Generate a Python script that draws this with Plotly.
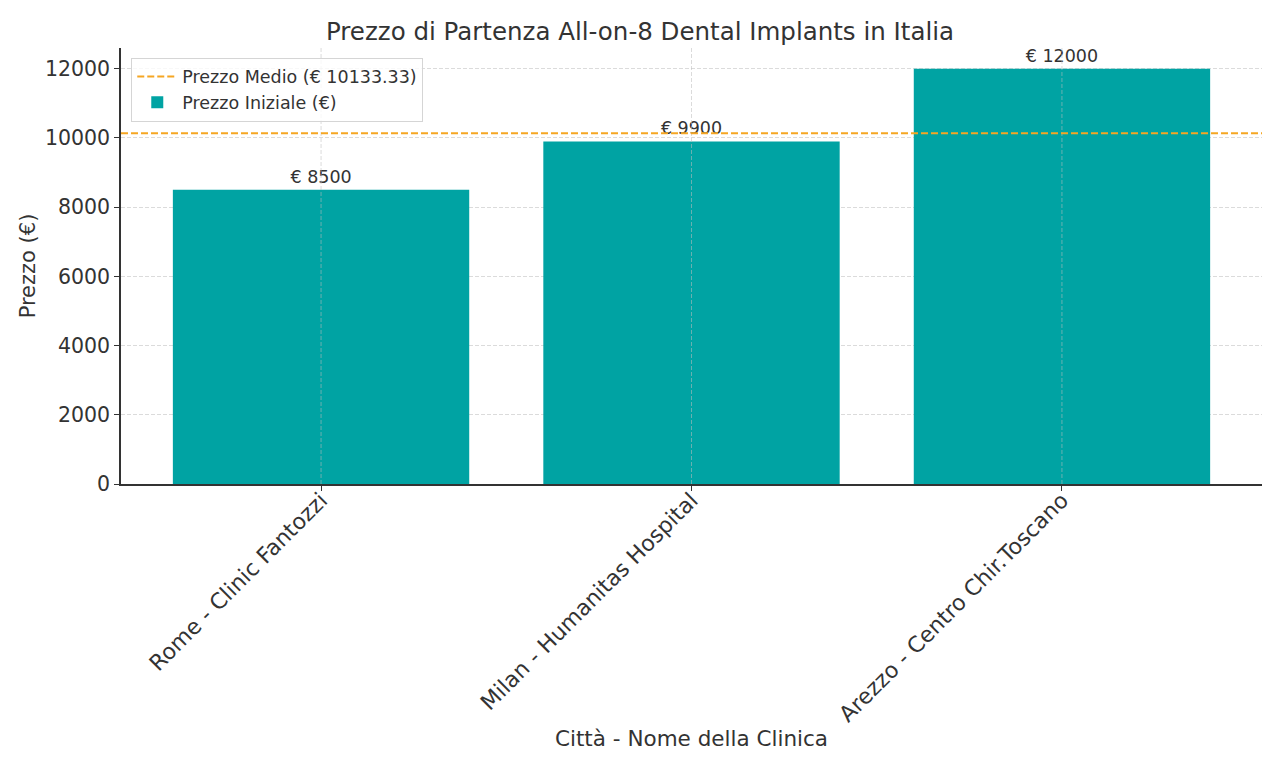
import plotly.graph_objects as go

categories = ["Rome - Clinic Fantozzi", "Milan - Humanitas Hospital", "Arezzo - Centro Chir.Toscano"]
prices = [8500, 9900, 12000]
mean_price = sum(prices) / len(prices)
y_ticks = [0, 2000, 4000, 6000, 8000, 10000, 12000]

TEXT = "#333333"
BAR = "#00A3A3"
ORANGE = "#F5A623"
GRID = "rgba(190,190,190,0.55)"
FONT = "DejaVu Sans"

fig = go.Figure()

# legend entry for mean line (line itself drawn as shape)
fig.add_trace(go.Scatter(
    x=[categories[0]], y=[None], mode="lines",
    line=dict(color=ORANGE, width=2, dash="7px,3px"),
    name=f"Prezzo Medio (€ {mean_price:.2f})",
))

fig.add_trace(go.Bar(
    x=categories, y=prices, width=0.8,
    marker=dict(color=BAR, line=dict(width=0)),
    name="Prezzo Iniziale (€)",
    text=[f"€ {v}" for v in prices], textposition="outside",
    textfont=dict(size=17.5, color=TEXT, family=FONT),
    cliponaxis=False,
))

# vertical grid lines drawn above bars (as in reference)
for c in categories:
    fig.add_shape(type="line", xref="x", yref="paper", x0=c, x1=c, y0=0, y1=1,
                  line=dict(color=GRID, width=1, dash="4px,2px"), layer="above")

fig.add_shape(type="line", xref="paper", yref="y", x0=0, x1=1,
              y0=mean_price, y1=mean_price,
              line=dict(color=ORANGE, width=2, dash="7px,3px"), layer="above")

fig.update_layout(
    width=1264, height=752,
    margin=dict(l=113, r=10, t=40, b=276, autoexpand=False),
    paper_bgcolor="white", plot_bgcolor="white",
    font=dict(family=FONT, color=TEXT, size=20),
    title=dict(text="Prezzo di Partenza All-on-8 Dental Implants in Italia",
               x=0.5, xanchor="center", y=0.969, yanchor="middle",
               font=dict(size=24.5, color=TEXT)),
    showlegend=True,
    legend=dict(x=0.009, y=0.978, xanchor="left", yanchor="top",
                bgcolor="rgba(255,255,255,0.8)", bordercolor="#D5D5D5", borderwidth=1,
                font=dict(size=17.5, color=TEXT), traceorder="normal",
                itemwidth=40, tracegroupgap=2),
    bargap=0.2,
)

fig.update_xaxes(
    type="category", range=[-0.54, 2.54], tickangle=-45, automargin=False,
    showline=True, linecolor="#333333", linewidth=1.5,
    ticks="outside", ticklen=5, tickcolor="#333333",
    showgrid=False,
    tickfont=dict(size=22, color=TEXT),
    ticklabelstandoff=-12,
    title=dict(text="Città - Nome della Clinica", font=dict(size=21.5, color=TEXT), standoff=5),
    layer="above traces",
)
fig.update_yaxes(
    range=[0, 12600], tickvals=y_ticks, ticktext=[str(t) for t in y_ticks],
    automargin=False,
    showline=True, linecolor="#333333", linewidth=1.5,
    ticks="outside", ticklen=5, tickcolor="#333333",
    showgrid=True, gridcolor=GRID, griddash="4px,2px", gridwidth=1,
    zeroline=False,
    tickfont=dict(size=20.5, color=TEXT),
    title=dict(text="Prezzo (€)", font=dict(size=21, color=TEXT), standoff=4),
    layer="above traces",
)

fig.write_html("out.html")
